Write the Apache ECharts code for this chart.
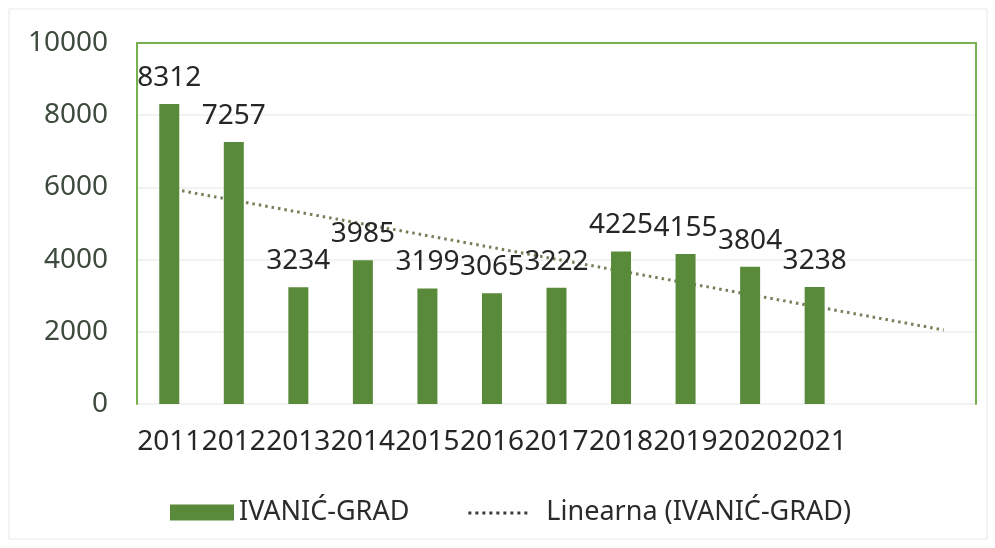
<!DOCTYPE html>
<html>
<head>
<meta charset="utf-8">
<script src="https://cdn.jsdelivr.net/npm/echarts@6/dist/echarts.min.js"></script>
<style>
  html, body { margin: 0; padding: 0; background: #ffffff; }
  #chart { width: 995px; height: 548px; }
</style>
</head>
<body>
<div id="chart"></div>
<script>
// podaci
var years = ["2011", "2012", "2013", "2014", "2015", "2016", "2017", "2018", "2019", "2020", "2021", "", ""];
var values = [8312, 7257, 3234, 3985, 3199, 3065, 3222, 4225, 4155, 3804, 3238];
// linearni trend, krajnje tocke ocitane sa slike
var trendValues = [5970, null, null, null, null, null, null, null, null, null, null, null, 2050];
var yTicks = [0, 2000, 4000, 6000, 8000, 10000];

var FONT = "Noto Sans";
var BAR_COLOR = "#588a3a";
var FRAME_COLOR = "#78b24f";
var TREND_COLOR = "#738158";

// ikona legende: niz tockica (prve dvije naredbe samo odreduju okvir)
var dotIcon = "path://M0,0M64,16";
for (var i = 0; i < 9; i++) {
  var x = 1 + i * 7;
  dotIcon += "M" + x + ",7h3v3h-3z";
}

var chart = echarts.init(document.getElementById("chart"));

chart.setOption({
  animation: false,
  backgroundColor: "#ffffff",
  textStyle: { fontFamily: FONT },
  graphic: [
    {
      type: "rect",
      shape: { x: 9, y: 9, width: 978, height: 530 },
      style: { fill: "none", stroke: "#e8e8e8", lineWidth: 1 },
      silent: true
    }
  ],
  grid: { left: 137, right: 19, top: 43, bottom: 144 },
  legend: {
    left: 165,
    top: 494,
    itemWidth: 64,
    itemHeight: 16,
    itemGap: 58,
    textStyle: { fontFamily: FONT, fontSize: 27, color: "#2b2b2b" },
    data: [
      { name: "IVANIĆ-GRAD", icon: "rect" },
      {
        name: "Linearna (IVANIĆ-GRAD)",
        icon: dotIcon,
        itemStyle: { color: "#3a3a3a" },
        textStyle: { padding: [0, 0, 0, 10] }
      }
    ]
  },
  xAxis: [
    {
      type: "category",
      data: years,
      position: "bottom",
      axisLine: { show: false },
      axisTick: { show: false },
      axisLabel: {
        interval: 0,
        margin: 24,
        fontFamily: FONT,
        fontSize: 28,
        color: "#262626"
      }
    },
    {
      type: "category",
      data: years,
      position: "top",
      axisLine: { show: true, onZero: false, lineStyle: { color: FRAME_COLOR, width: 2 } },
      axisTick: { show: false },
      axisLabel: { show: false }
    }
  ],
  yAxis: [
    {
      type: "value",
      min: yTicks[0],
      max: yTicks[yTicks.length - 1],
      interval: 2000,
      position: "left",
      axisLine: { show: true, lineStyle: { color: FRAME_COLOR, width: 2 } },
      axisTick: { show: false },
      axisLabel: {
        margin: 29,
        fontFamily: FONT,
        fontSize: 28,
        color: "#3e4a3e",
        formatter: function (v) { return String(v); }
      },
      splitLine: { show: true, lineStyle: { color: "#eeeeee", width: 1.5 } }
    },
    {
      type: "value",
      min: yTicks[0],
      max: yTicks[yTicks.length - 1],
      interval: 2000,
      position: "right",
      axisLine: { show: true, lineStyle: { color: FRAME_COLOR, width: 2 } },
      axisTick: { show: false },
      axisLabel: { show: false },
      splitLine: { show: false }
    }
  ],
  series: [
    {
      name: "Linearna (IVANIĆ-GRAD)",
      type: "line",
      z: 2,
      data: trendValues,
      connectNulls: true,
      symbol: "none",
      itemStyle: { color: TREND_COLOR },
      lineStyle: { color: TREND_COLOR, width: 3, type: [2.5, 4] }
    },
    {
      name: "IVANIĆ-GRAD",
      type: "bar",
      z: 3,
      data: values,
      barWidth: 20,
      itemStyle: { color: BAR_COLOR },
      label: {
        show: true,
        position: "top",
        distance: 12,
        fontFamily: FONT,
        fontSize: 28,
        color: "#262626"
      }
    }
  ]
});
</script>
</body>
</html>
